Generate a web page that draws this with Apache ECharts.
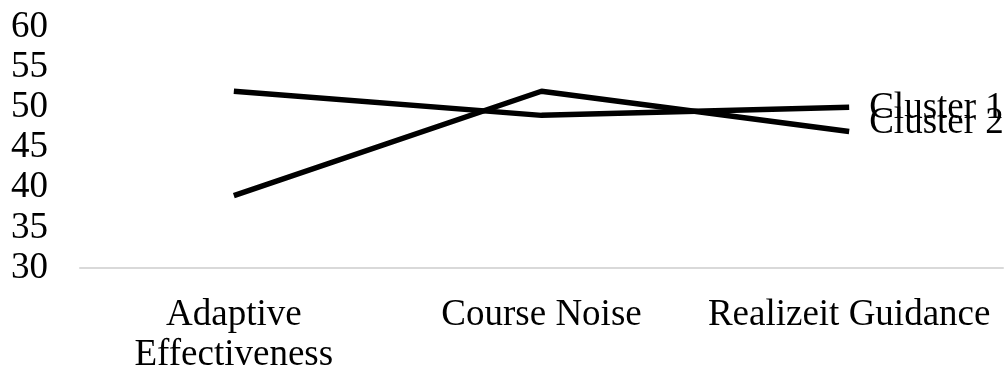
<!DOCTYPE html>
<html><head><meta charset="utf-8">
<script src="https://cdn.jsdelivr.net/npm/echarts@6/dist/echarts.min.js"></script>
<style>html,body{margin:0;padding:0;background:#fff}#c{width:1008px;height:375px}</style>
</head><body><div id="c"></div>
<script>
var categories = ['Adaptive\nEffectiveness', 'Course Noise', 'Realizeit Guidance'];
var cluster1 = [52, 49, 50];
var cluster2 = [39, 52, 47];
var seriesNames = ['Cluster 1', 'Cluster 2'];
var yTicks = [30, 35, 40, 45, 50, 55, 60];

var font = '"Liberation Serif", "Times New Roman", serif';
var chart = echarts.init(document.getElementById('c'));
chart.setOption({
  animation: false,
  grid: { left: 80, right: 5, top: 27, bottom: 102, containLabel: false },
  xAxis: {
    type: 'category', data: categories, boundaryGap: true,
    axisLine: { show: true, lineStyle: { color: '#d9d9d9', width: 2 } },
    axisTick: { show: false },
    axisLabel: { color: '#000', fontFamily: font, fontSize: 37, margin: 27, lineHeight: 40, interval: 0 }
  },
  yAxis: {
    type: 'value', min: yTicks[0], max: yTicks[yTicks.length - 1], interval: 5,
    axisLine: { show: false }, axisTick: { show: false }, splitLine: { show: false },
    axisLabel: { color: '#000', fontFamily: font, fontSize: 37, margin: 32, padding: [4, 0, 0, 0] }
  },
  series: [
    { name: seriesNames[0], type: 'line', data: cluster1, showSymbol: false, symbol: 'none',
      lineStyle: { color: '#000', width: 5.5 },
      endLabel: { show: true, formatter: '{a}', color: '#000', fontFamily: font, fontSize: 37, distance: 20, offset: [0, 1] } },
    { name: seriesNames[1], type: 'line', data: cluster2, showSymbol: false, symbol: 'none',
      lineStyle: { color: '#000', width: 5.5 },
      endLabel: { show: true, formatter: '{a}', color: '#000', fontFamily: font, fontSize: 37, distance: 20, offset: [0, -8] } }
  ]
});
</script></body></html>
